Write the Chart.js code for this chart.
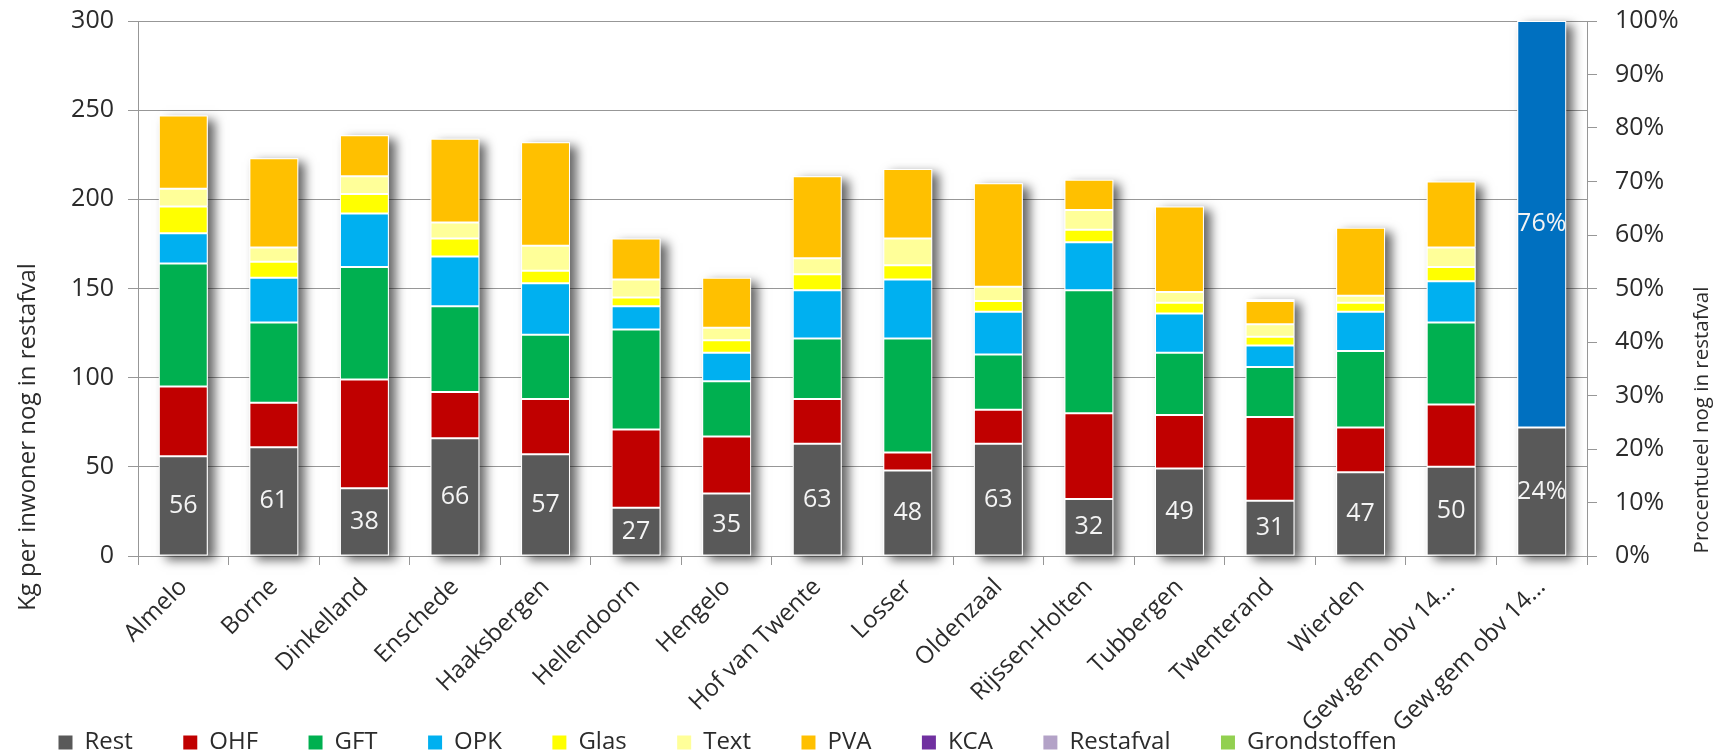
<!DOCTYPE html>
<html>
<head>
<meta charset="utf-8">
<script src="https://cdn.jsdelivr.net/npm/chart.js@4.4.1/dist/chart.umd.min.js"></script>
<style>
  html, body { margin: 0; padding: 0; background: #fff; }
  #wrap { width: 1726px; height: 753px; }
</style>
</head>
<body>
<div id="wrap"><canvas id="myChart" width="1726" height="753"></canvas></div>
<script>
// DATA

const categories = ["Almelo", "Borne", "Dinkelland", "Enschede", "Haaksbergen", "Hellendoorn",
  "Hengelo", "Hof van Twente", "Losser", "Oldenzaal", "Rijssen-Holten", "Tubbergen",
  "Twenterand", "Wierden", "Gew.gem obv 14…", "Gew.gem obv 14…"];

const rest = [56, 61, 38, 66, 57, 27, 35, 63, 48, 63, 32, 49, 31, 47, 50, null];
const ohf = [39, 25, 61, 26, 31, 44, 32, 25, 10, 19, 48, 30, 47, 25, 35, null];
const gft = [69, 45, 63, 48, 36, 56, 31, 34, 64, 31, 69, 35, 28, 43, 46, null];
const opk = [17, 25, 30, 28, 29, 13, 16, 27, 33, 24, 27, 22, 12, 22, 23, null];
const glas = [15, 9, 11, 10, 7, 5, 7, 9, 8, 6, 7, 6, 5, 5, 8, null];
const text = [10, 8, 10, 9, 14, 10, 7, 9, 15, 8, 11, 6, 7, 4, 11, null];
const pva = [41, 50, 23, 47, 58, 23, 28, 46, 39, 58, 17, 48, 13, 38, 37, null];
const kca = [0, 0, 0, 0, 0, 0, 0, 0, 0, 0, 0, 0, 1, 0, 0, null];
// last bar, right axis (percent)
const restafvalPct = [null, null, null, null, null, null, null, null, null, null, null, null, null, null, null, 24];
const grondstoffenPct = [null, null, null, null, null, null, null, null, null, null, null, null, null, null, null, 76];

const leftTicks = [0, 50, 100, 150, 200, 250, 300];
const rightTicks = [0, 10, 20, 30, 40, 50, 60, 70, 80, 90, 100];

const leftTitle = "Kg per inwoner nog in restafval";
const rightTitle = "Procentueel nog in restafval";

// STYLE

const FONT = "'Open Sans', 'Noto Sans', sans-serif";
const GRID = "#979797";
const INK = "#2b2b2b";

// name, data, axis, bar colour, legend colour
const series = [
  ["Rest", rest, "y", "#595959", "#595959"],
  ["OHF", ohf, "y", "#C00000", "#C00000"],
  ["GFT", gft, "y", "#00B050", "#00B050"],
  ["OPK", opk, "y", "#00B0F0", "#00B0F0"],
  ["Glas", glas, "y", "#FFFF00", "#FFFF00"],
  ["Text", text, "y", "#FFFF99", "#FFFF99"],
  ["PVA", pva, "y", "#FFC000", "#FFC000"],
  ["KCA", kca, "y", "#7030A0", "#7030A0"],
  ["Restafval", restafvalPct, "y1", "#595959", "#B3A2C7"],
  ["Grondstoffen", grondstoffenPct, "y1", "#0070C0", "#92D050"],
];

let datasets = series.map((s) => ({
  label: s[0],
  data: s[1],
  yAxisID: s[2],
  backgroundColor: s[3],
  borderColor: "#ffffff",
  borderWidth: 1,
  borderSkipped: false,
  barPercentage: 0.54,
  categoryPercentage: 1,
}));

// PLUGINS

const shadowAndLabels = {
  id: "shadowAndLabels",
  // one soft shadow behind every whole stack
  beforeDatasetsDraw(chart) {
    const ctx = chart.ctx;
    ctx.save();
    ctx.shadowColor = "rgba(0,0,0,0.6)";
    ctx.shadowBlur = 10;
    ctx.shadowOffsetX = 7;
    ctx.shadowOffsetY = 4;
    ctx.fillStyle = "#ffffff";
    categories.forEach((c, j) => {
      let top = null, bottom = null, x = 0, w = 0;
      chart.data.datasets.forEach((ds, i) => {
        let v = ds.data[j];
        if (v === null || v === undefined || v === 0) return;
        let el = chart.getDatasetMeta(i).data[j];
        let t = Math.min(el.y, el.base), b = Math.max(el.y, el.base);
        top = top === null ? t : Math.min(top, t);
        bottom = bottom === null ? b : Math.max(bottom, b);
        x = el.x;
        w = el.width;
      });
      if (top === null) return;
      ctx.fillRect(x - w / 2, top, w, bottom - top);
    });
    ctx.restore();
  },
  afterDatasetsDraw(chart) {
    const ctx = chart.ctx;
    ctx.save();
    ctx.fillStyle = "#f4f4f4";
    ctx.font = "25px " + FONT;
    ctx.textAlign = "center";
    ctx.textBaseline = "middle";
    chart.data.datasets.forEach((ds, i) => {
      let pct = ds.yAxisID === "y1";
      if (i !== 0 && !pct) return;
      chart.getDatasetMeta(i).data.forEach((bar, j) => {
        let v = ds.data[j];
        if (v === null || v === undefined) return;
        ctx.fillText(pct ? v + "%" : String(v), bar.x, (bar.y + bar.base) / 2);
      });
    });
    ctx.restore();
  },
  afterDraw(chart) {
    const ctx = chart.ctx;
    const a = chart.chartArea;
    ctx.save();
    ctx.fillStyle = INK;
    ctx.textAlign = "center";
    ctx.textBaseline = "middle";
    ctx.font = "24px " + FONT;
    ctx.translate(28, a.bottom - 119);
    ctx.rotate(-Math.PI / 2);
    ctx.fillText(leftTitle, 0, 0);
    ctx.restore();
    ctx.save();
    ctx.fillStyle = INK;
    ctx.textAlign = "center";
    ctx.textBaseline = "middle";
    ctx.font = "20.5px " + FONT;
    ctx.translate(a.right + 115, a.bottom - 136);
    ctx.rotate(-Math.PI / 2);
    ctx.fillText(rightTitle, 0, 0);
    ctx.restore();
  },
};

// no extra room above/below the value axes for half a tick label
function fixPad(scale, width) {
  scale.width = width;
  scale.paddingTop = 0;
  scale.paddingBottom = 0;
}

// DRAWING GRAPH

const ctx = document.getElementById("myChart").getContext("2d");

let myChart = new Chart(ctx, {
  type: "bar",
  data: { labels: categories, datasets: datasets },
  plugins: [shadowAndLabels],
  options: {
    responsive: false,
    animation: false,
    layout: { padding: { left: 8, right: 0, top: 21, bottom: 0 } },
    plugins: {
      tooltip: { enabled: false },
      legend: {
        position: "bottom",
        align: "start",
        maxHeight: 73,
        labels: {
          font: { family: FONT, size: 24 },
          color: INK,
          boxWidth: 14,
          boxHeight: 14,
          padding: 50.5,
          generateLabels(chart) {
            return chart.data.datasets.map((ds, i) => ({
              text: ds.label,
              fillStyle: series[i][4],
              strokeStyle: series[i][4],
              lineWidth: 0,
              hidden: false,
              datasetIndex: i,
              fontColor: INK,
            }));
          },
        },
      },
    },
    scales: {
      x: {
        stacked: true,
        afterFit(scale) {
          scale.height = 124;
          // let the slanted labels run down past the axis box, as in the original
          scale._computeLabelArea = function () { return undefined; };
        },
        grid: { display: true, drawOnChartArea: false, offset: true, color: GRID, tickLength: 9 },
        border: { color: GRID },
        ticks: {
          autoSkip: false,
          minRotation: 45,
          maxRotation: 45,
          padding: 8,
          color: INK,
          font: { family: FONT, size: 24 },
        },
      },
      y: {
        stacked: true,
        min: 0,
        max: 300,
        afterFit(scale) { fixPad(scale, 130); },
        afterBuildTicks(scale) { scale.ticks = leftTicks.map((v) => ({ value: v })); },
        grid: { color: GRID, tickLength: 10 },
        border: { color: GRID },
        ticks: { padding: 14, color: INK, font: { family: FONT, size: 25 } },
      },
      y1: {
        stacked: true,
        position: "right",
        min: 0,
        max: 100,
        afterFit(scale) { fixPad(scale, 139); },
        afterBuildTicks(scale) { scale.ticks = rightTicks.map((v) => ({ value: v })); },
        grid: { drawOnChartArea: false, color: GRID, tickLength: 10 },
        border: { color: GRID },
        ticks: {
          padding: 18,
          color: INK,
          font: { family: FONT, size: 25 },
          callback: (v) => v + "%",
        },
      },
    },
  },
});
</script>
</body>
</html>
